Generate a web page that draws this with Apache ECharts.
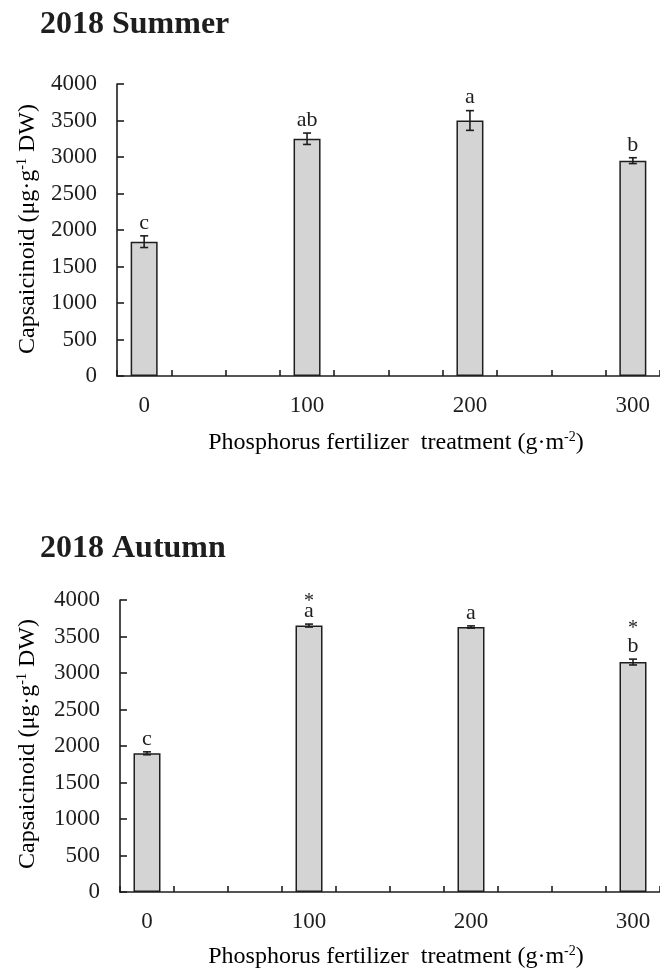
<!DOCTYPE html>
<html>
<head>
<meta charset="utf-8">
<script src="https://cdn.jsdelivr.net/npm/echarts@6/dist/echarts.min.js"></script>
<style>
  html, body { margin: 0; padding: 0; background: #fff; }
  #chart { width: 660px; height: 974px; }
</style>
</head>
<body>
<div id="chart"></div>
<script>
// Phosphorus treatments (g·m-2) and capsaicinoid content (μg·g-1 DW)
const treatments = ['0', '100', '200', '300'];

const summerMean = [1840, 3250, 3500, 2950];
const summerErr = [80, 78, 135, 40];
const summerLetters = ['c', 'ab', 'a', 'b'];

const autumnMean = [1900, 3650, 3630, 3150];
const autumnErr = [20, 20, 15, 40];
const autumnLetters = ['c', 'a', 'a', 'b'];
const autumnStars = ['', '*', '', '*'];

const yMin = 0, yMax = 4000, yStep = 500;

// Each treatment sits on its own slot, with two empty slots between neighbours
const GAP_SLOTS = 2;
const slotIndex = treatments.map((t, i) => i * (GAP_SLOTS + 1));
const slotCount = slotIndex[slotIndex.length - 1] + 1;
const categories = Array.from({ length: slotCount }, () => '');
treatments.forEach((t, i) => { categories[slotIndex[i]] = t; });

function slotValues(values) {
  const out = Array.from({ length: slotCount }, () => '-');
  values.forEach((v, i) => { out[slotIndex[i]] = v; });
  return out;
}

const SERIF = '"Liberation Serif", "Times New Roman", serif';
const INK = '#1e1e1e';

function errorData(mean, err, letters, stars) {
  return mean.map((m, i) => [slotIndex[i], m, err[i], letters[i], stars ? stars[i] : '']);
}

const errSource = {};

function renderError(params, api) {
  const x = api.value(0);
  const m = api.value(1);
  const e = api.value(2);
  const raw = errSource[params.seriesIndex][params.dataIndex];
  const letter = raw[3];
  const star = raw[4];
  const top = api.coord([x, m + e]);
  const bot = api.coord([x, m - e]);
  const cap = 4;
  const lineStyle = { stroke: INK, lineWidth: 1.6 };
  const children = [
    { type: 'line', shape: { x1: top[0], y1: top[1], x2: bot[0], y2: bot[1] }, style: lineStyle },
    { type: 'line', shape: { x1: top[0] - cap, y1: top[1], x2: top[0] + cap, y2: top[1] }, style: lineStyle },
    { type: 'line', shape: { x1: bot[0] - cap, y1: bot[1], x2: bot[0] + cap, y2: bot[1] }, style: lineStyle },
    { type: 'text', style: { text: letter, x: top[0], y: top[1] - 2, align: 'center', verticalAlign: 'bottom',
        font: '22px ' + SERIF, fill: INK } }
  ];
  if (star) {
    const tall = /[bdfhklt]/.test(letter);
    children.push({ type: 'text', style: { text: star, x: top[0], y: top[1] - (tall ? 30 : 22.5),
        align: 'center', verticalAlign: 'middle', font: '20px ' + SERIF, fill: INK } });
  }
  return { type: 'group', children };
}

const panels = [
  { left: 117, top: 84, height: 292, mean: summerMean, err: summerErr, letters: summerLetters, stars: null },
  { left: 120, top: 600, height: 292, mean: autumnMean, err: autumnErr, letters: autumnLetters, stars: autumnStars }
];

const grid = [], xAxis = [], yAxis = [], series = [];
panels.forEach((p, k) => {
  grid.push({ left: p.left, top: p.top, width: 550, height: p.height });
  xAxis.push({
    type: 'category', gridIndex: k, data: categories, boundaryGap: true,
    axisLine: { lineStyle: { color: INK, width: 1.6 } },
    axisTick: { show: true, inside: true, length: 6, interval: 0, lineStyle: { color: INK, width: 1.6 } },
    axisLabel: { interval: 0, margin: 18, fontFamily: SERIF, fontSize: 23, color: INK },
    splitLine: { show: false }
  });
  yAxis.push({
    type: 'value', gridIndex: k, min: yMin, max: yMax, interval: yStep,
    axisLine: { show: true, lineStyle: { color: INK, width: 1.6 } },
    axisTick: { show: true, inside: true, length: 7, lineStyle: { color: INK, width: 1.6 } },
    axisLabel: { margin: 20, fontFamily: SERIF, fontSize: 23, color: INK, formatter: v => String(v) },
    splitLine: { show: false }
  });
  series.push({
    type: 'bar', xAxisIndex: k, yAxisIndex: k, barWidth: 27,
    data: slotValues(p.mean),
    itemStyle: { color: '#d4d4d4', borderColor: INK, borderWidth: 1.5 },
    silent: true, animation: false
  });
  const ed = errorData(p.mean, p.err, p.letters, p.stars);
  errSource[series.length] = ed;
  series.push({
    type: 'custom', xAxisIndex: k, yAxisIndex: k,
    data: ed.map(d => [d[0], d[1], d[2]]),
    renderItem: renderError, z: 5, silent: true, animation: false
  });
});

const supRich = {
  n: { fontFamily: SERIF, fontSize: 24, color: INK },
  s: { fontFamily: SERIF, fontSize: 14, color: INK, verticalAlign: 'top', padding: [0, 0, 11, 0] }
};

function panelTitle(text, y) {
  return { type: 'text', left: 40, top: y, style: { text, font: 'bold 32px ' + SERIF, fill: INK } };
}
function yTitle(cy) {
  return { type: 'text', x: 28, y: cy, rotation: Math.PI / 2,
    style: { text: '{n|Capsaicinoid (μg·g}{s|-1}{n| DW)}', rich: supRich, align: 'center', verticalAlign: 'middle' } };
}
function xTitle(cy) {
  return { type: 'text', x: 396, y: cy,
    style: { text: '{n|Phosphorus fertilizer  treatment (g·m}{s|-2}{n|)}', rich: supRich, align: 'center', verticalAlign: 'middle' } };
}

const chart = echarts.init(document.getElementById('chart'), null, { renderer: 'canvas' });
chart.setOption({
  backgroundColor: '#ffffff',
  animation: false,
  grid, xAxis, yAxis, series,
  graphic: [
    panelTitle('2018 Summer', 9),
    panelTitle('2018 Autumn', 533),
    yTitle(229), yTitle(744),
    xTitle(443), xTitle(957)
  ]
});
</script>
</body>
</html>
